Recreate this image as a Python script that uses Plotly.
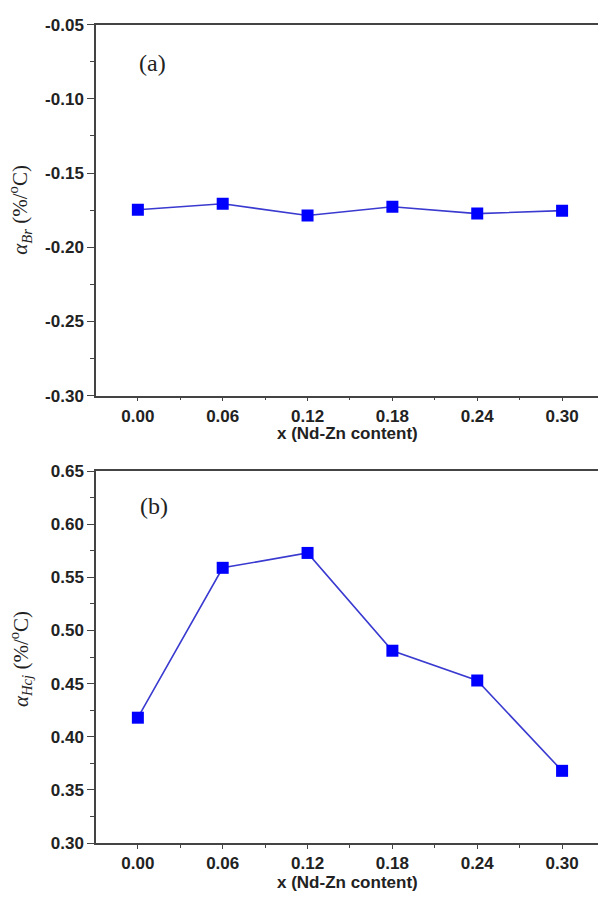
import plotly.graph_objects as go

x_content = [0.00, 0.06, 0.12, 0.18, 0.24, 0.30]
alpha_br = [-0.1747, -0.1707, -0.1786, -0.1727, -0.1773, -0.1753]
alpha_hcj = [0.418, 0.559, 0.573, 0.481, 0.453, 0.368]
x_ticks = [0.00, 0.06, 0.12, 0.18, 0.24, 0.30]
x_ticklabels = ["0.00", "0.06", "0.12", "0.18", "0.24", "0.30"]
ya_ticks = [-0.30, -0.25, -0.20, -0.15, -0.10, -0.05]
ya_ticklabels = ["-0.30", "-0.25", "-0.20", "-0.15", "-0.10", "-0.05"]
yb_ticks = [0.30, 0.35, 0.40, 0.45, 0.50, 0.55, 0.60, 0.65]
yb_ticklabels = ["0.30", "0.35", "0.40", "0.45", "0.50", "0.55", "0.60", "0.65"]

H = 905
W = 600

fig = go.Figure()

line_style = dict(color="#3a3ad0", width=1.6)
marker_style = dict(symbol="square", size=12, color="#0000ff", line=dict(width=0))

fig.add_trace(go.Scatter(x=x_content, y=alpha_br, mode="lines+markers",
                         line=line_style, marker=marker_style,
                         xaxis="x", yaxis="y", showlegend=False))
fig.add_trace(go.Scatter(x=x_content, y=alpha_hcj, mode="lines+markers",
                         line=line_style, marker=marker_style,
                         xaxis="x2", yaxis="y2", showlegend=False))

tickfont = dict(family="Liberation Sans", size=17, color="#222222", weight="bold")
axis_common = dict(showline=True, linecolor="#444444", linewidth=1.5,
                   tickwidth=1.3, tickcolor="#444444", ticks="outside",
                   showgrid=False, zeroline=False, tickfont=tickfont)
minor_x = dict(dtick=0.03, tick0=0, ticklen=3, ticks="outside", tickcolor="#444444")
minor_y = dict(dtick=0.025, tick0=0, ticklen=4, ticks="outside", tickcolor="#444444")

xrange = [-0.0296, 0.3254]
xdom = [96 / W, 598 / W]

fig.update_layout(
    width=W, height=H,
    margin=dict(l=0, r=0, t=0, b=0),
    paper_bgcolor="white", plot_bgcolor="white",
    xaxis=dict(domain=xdom, range=xrange, anchor="y", tickvals=x_ticks,
               ticktext=x_ticklabels, mirror=True, ticklen=4, minor=minor_x,
               **axis_common),
    yaxis=dict(domain=[1 - 395 / H, 1 - 16 / H], range=[-0.30, -0.05], anchor="x",
               tickvals=ya_ticks, ticktext=ya_ticklabels, ticklen=7, minor=minor_y,
               **axis_common),
    xaxis2=dict(domain=xdom, range=xrange, anchor="y2", tickvals=x_ticks,
                ticktext=x_ticklabels, mirror=True, ticklen=4, minor=minor_x,
                **axis_common),
    yaxis2=dict(domain=[1 - 852 / H, 1 - 472 / H], range=[0.30, 0.65], anchor="x2",
                tickvals=yb_ticks, ticktext=yb_ticklabels, ticklen=7, minor=minor_y,
                **axis_common),
)

title_font = dict(family="Liberation Sans", size=17, color="#222222", weight="bold")
serif = dict(family="Liberation Serif", size=21, color="#222222")
label_font = dict(family="Liberation Serif", size=24, color="#222222")

anns = [
    dict(text="x (Nd-Zn content)", x=347 / W, y=1 - 434 / H, font=title_font),
    dict(text="x (Nd-Zn content)", x=347 / W, y=1 - 892 / H, font=title_font),
    dict(text="(a)", x=152 / W, y=1 - 55 / H, font=label_font),
    dict(text="(b)", x=154 / W, y=1 - 508 / H, font=label_font),
    dict(text="<i>α</i><sub><i>Br</i></sub> (%/<sup>o</sup>C)", x=20 / W, y=1 - 205 / H,
         textangle=-90, font=serif),
    dict(text="<i>α</i><sub><i>Hcj</i></sub> (%/<sup>o</sup>C)", x=20 / W, y=1 - 664 / H,
         textangle=-90, font=serif),
]
for a in anns:
    a.update(xref="paper", yref="paper", showarrow=False, xanchor="center", yanchor="middle")
    fig.add_annotation(**a)

fig.write_html("out.html")
